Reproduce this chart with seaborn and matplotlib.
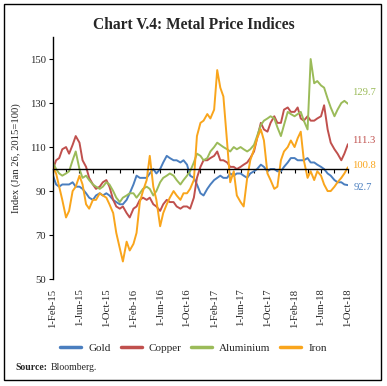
import pandas as pd
import matplotlib.pyplot as plt
import matplotlib.dates as mdates
import seaborn as sns

# semi-monthly readings, 1-Feb-15 .. 1-Oct-18
dates = pd.date_range('2015-02-01', '2018-10-01', freq='SMS')

gold = [97, 93, 92, 93, 93, 93, 94, 92, 92, 91, 89, 87, 86, 88, 89, 88, 89, 88, 86, 85, 84, 84,
        86, 89, 93, 97, 96, 96, 96, 98, 100, 98, 100, 103, 106, 105, 104, 104, 103, 104, 102, 97, 96, 93, 89, 88,
        91, 93, 95, 96, 97, 96, 96, 98, 97, 98, 98, 97, 96, 98, 99, 100, 102, 101, 99, 100, 100, 99, 99, 101,
        103, 105, 105, 104, 104, 104, 105, 103, 103, 102, 101, 100, 98, 97, 95, 94, 94, 93, 92.7]
copper = [100, 104, 105, 109, 110, 107, 111, 115, 112, 104, 101, 96, 93, 91, 92, 94, 95, 92, 86, 83, 82, 83,
          80, 78, 82, 83, 86, 87, 86, 87, 84, 83, 81, 84, 86, 85, 85, 83, 82, 83, 83, 82, 87, 96, 101, 104,
          104, 105, 106, 108, 104, 104, 103, 101, 101, 100, 101, 102, 103, 105, 108, 114, 121, 118, 117, 121, 124, 121, 121, 127,
          128, 126, 126, 128, 123, 122, 124, 122, 122, 123, 124, 129, 118, 112, 109, 107, 104, 107, 111.3]
aluminium = [103, 100, 98, 97, 98, 99, 104, 108, 100, 96, 97, 95, 93, 92, 91, 92, 94, 93, 90, 87, 85, 87,
             88, 89, 89, 87, 89, 91, 92, 91, 88, 90, 94, 96, 97, 98, 97, 95, 93, 95, 97, 99, 103, 107, 106, 104,
             105, 108, 110, 112, 111, 110, 109, 108, 110, 109, 110, 109, 108, 109, 111, 115, 120, 122, 123, 124, 123, 119, 115, 120,
             126, 125, 124, 125, 126, 122, 118, 150, 139, 140, 138, 137, 132, 128, 124, 127, 130, 131, 129.7]
iron = [101, 98, 92, 86, 78, 81, 90, 92, 97, 93, 84, 82, 86, 86, 89, 88, 87, 84, 80, 71, 64, 58,
        67, 63, 66, 71, 85, 90, 95, 106, 92, 86, 74, 80, 84, 87, 90, 88, 86, 89, 89, 91, 95, 115, 121, 122,
        125, 123, 127, 145, 137, 133, 112, 94, 99, 88, 85, 83, 96, 104, 109, 114, 118, 113, 98, 95, 91, 92, 104, 108,
        110, 113, 110, 114, 117, 104, 96, 99, 95, 99, 97, 93, 90, 90, 92, 94, 96, 98, 100.8]

metals = ['Gold', 'Copper', 'Aluminium', 'Iron']
colors = ['#4a7ebf', '#c0504d', '#9bbb59', '#f9a51c']
series = [gold, copper, aluminium, iron]

df = pd.concat([pd.DataFrame({'date': dates, 'value': v, 'metal': m})
                for m, v in zip(metals, series)], ignore_index=True)

sns.set_style('white')
plt.rcParams['font.family'] = ['Liberation Serif', 'DejaVu Serif']

fig = plt.figure(figsize=(3.87, 3.86), dpi=100)
ax = fig.add_axes([0.137, 0.277, 0.762, 0.627])

sns.lineplot(data=df, x='date', y='value', hue='metal', hue_order=metals,
             palette=colors, linewidth=1.4, ax=ax)

ax.set_xlim(dates[0], dates[-1])
ax.set_ylim(50, 160)
ax.set_yticks([50, 70, 90, 110, 130, 150])

ax.spines['top'].set_visible(False)
ax.spines['right'].set_visible(False)
ax.spines['bottom'].set_position(('data', 100))
for s in ['bottom', 'left']:
    ax.spines[s].set_color('black')
    ax.spines[s].set_linewidth(1)

# major ticks labelled every 4 months, plain ticks in between
ax.xaxis.set_major_locator(mdates.MonthLocator(bymonth=[2, 6, 10]))
ax.xaxis.set_minor_locator(mdates.MonthLocator(bymonth=[4, 8, 12]))
ax.set_xticks(ax.get_xticks())
ax.set_xticklabels([f'1-{mdates.num2date(t):%b-%y}' for t in ax.get_xticks()])
ax.tick_params(axis='x', which='both', direction='out', length=3, width=0.8, color='black',
               bottom=True, labelsize=7.7, pad=83, labelrotation=90)
ax.tick_params(axis='y', direction='out', length=3, width=0.8, color='black', left=True, labelsize=7.7, pad=2)

ax.set_xlabel('')
ax.set_ylabel('Index (Jan 26, 2015=100)', fontsize=7.7)
ax.yaxis.set_label_coords(-0.11, 0.5)

# end-of-series value labels
offsets = [(4, -2), (3, 3), (3, 8), (3, 1)]
for m, v, c, off in zip(metals, series, colors, offsets):
    ax.annotate(f'{v[-1]:.1f}', xy=(dates[-1], v[-1]), xytext=off, textcoords='offset points',
                color=c, fontsize=7.7, va='center', ha='left', annotation_clip=False)

handles, labels = ax.get_legend_handles_labels()
ax.legend(handles, labels, loc='center', bbox_to_anchor=(0.5, 0.098), bbox_transform=fig.transFigure,
          ncol=4, frameon=False, fontsize=8, handlelength=1.9, columnspacing=0.9, handletextpad=0.6)
for h in ax.get_legend().legend_handles:
    h.set_linewidth(2.5)

fig.suptitle('Chart V.4: Metal Price Indices', y=0.955, fontsize=11.2, fontweight='bold')
fig.text(0.04, 0.047, 'Source:', fontsize=7, fontweight='bold', va='center')
fig.text(0.13, 0.047, 'Bloomberg.', fontsize=7, va='center')

fig.add_artist(plt.Rectangle((0.0103, 0.0155), 0.9742, 0.9741, transform=fig.transFigure,
                             fill=False, edgecolor='black', linewidth=1))

fig.savefig('out.png', dpi=100)
